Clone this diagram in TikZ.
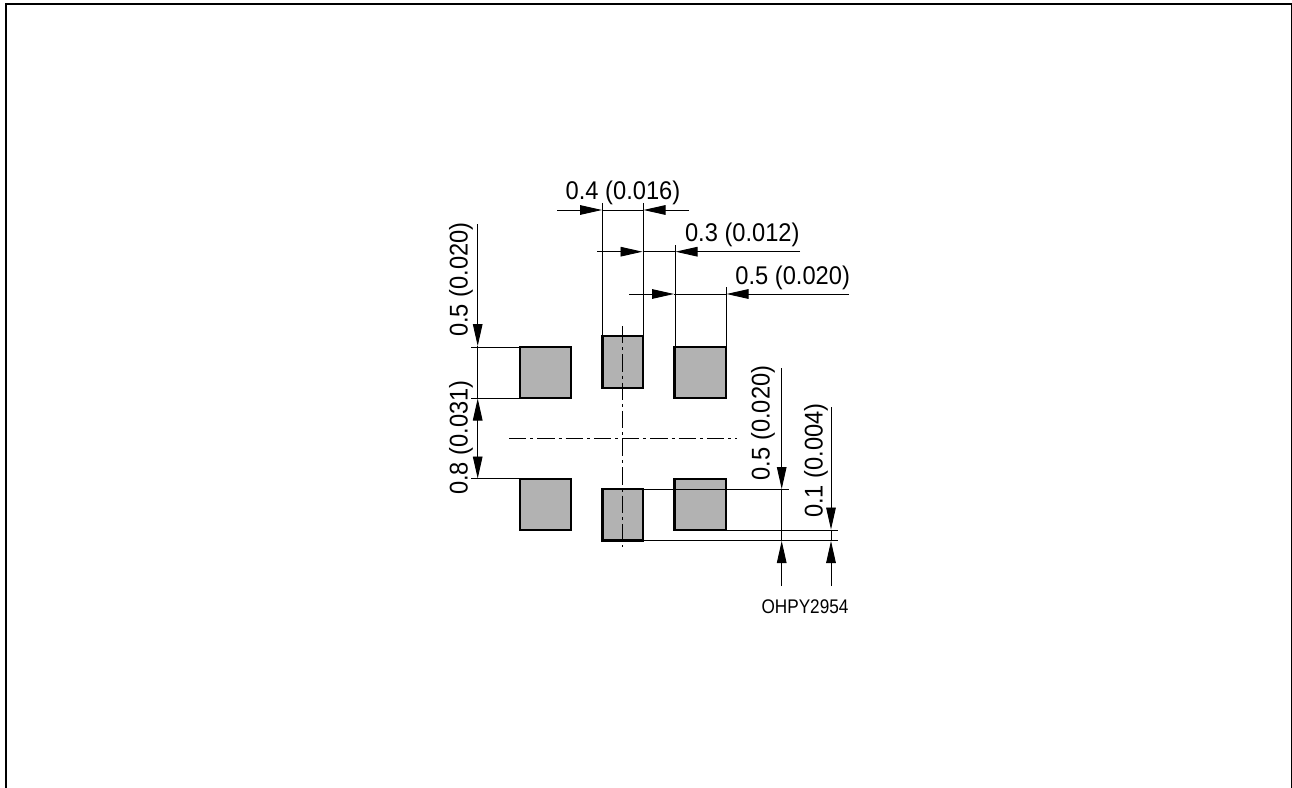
\documentclass[tikz,border=0pt]{standalone}
\usepackage{fontspec}
\usepackage{graphicx}
\setmainfont{Liberation Sans}
\usetikzlibrary{arrows.meta}
\newcommand{\dimlabel}[1]{\scalebox{0.925}[1]{\fontsize{19.2pt}{22pt}\selectfont #1}}
\newcommand{\codelabel}[1]{\scalebox{0.87}[1]{\fontsize{14.8pt}{17pt}\selectfont #1}}
\tikzset{
  px/.style={x=0.75pt,y=-0.75pt},
  frameline/.style={line width=1.5pt,black},
  pad/.style={draw=black,fill=padgray,line width=1.6pt,line join=miter},
  thin line/.style={line width=0.7pt,black},
  dim/.style={thin line,-{Triangle[length=16.5pt,width=7.2pt]},shorten >=0pt},
  center line/.style={line width=0.7pt,black,dash pattern=on 13pt off 3pt on 2.2pt off 3pt},
  dimtext/.style={anchor=base,inner sep=0pt,outer sep=0pt},
  dimrot/.style={dimtext,rotate=90},
}
\definecolor{padgray}{HTML}{B2B2B2}
\begin{document}
\begin{tikzpicture}[px]
\useasboundingbox (0,0) rectangle (1292,788);
% frame, open at the bottom
\draw[frameline] (6,788) -- (6,4) -- (1291.5,4) -- (1291.5,788);
% pads
\draw[pad] (520,347) rectangle (571,398);
\draw[pad] (602.5,336) rectangle (643,388);
\draw[pad] (674.5,347) rectangle (726,398);
\draw[pad] (520,479) rectangle (571,530);
\draw[pad] (602.5,489) rectangle (643,540.5);
\draw[pad] (674.5,479) rectangle (726,530);
% centre lines
\draw[center line] (622.7,326) -- (622.7,547);
\draw[center line] (509,438.3) -- (737,438.3);
% extension lines
\draw[thin line] (602.5,203) -- (602.5,336);
\draw[thin line] (643,203) -- (643,336);
\draw[thin line] (675,245) -- (675,347);
\draw[thin line] (726,287) -- (726,347);
\draw[thin line] (471,347) -- (520,347);
\draw[thin line] (471,398) -- (520,398);
\draw[thin line] (471,478.7) -- (520,478.7);
\draw[thin line] (643,489) -- (789,489);
\draw[thin line] (726,530) -- (838,530);
\draw[thin line] (643,540.5) -- (838,540.5);
% horizontal dimensions
\coordinate (a1) at (557,210); \coordinate (a2) at (602,210);
\coordinate (a3) at (689,210); \coordinate (a4) at (643.5,210);
\draw[dim] (a1) -- (a2);
\draw[dim] (a3) -- (a4);
\draw[thin line] (a2) -- (a4);
\coordinate (b1) at (597,251.7); \coordinate (b2) at (642.5,251.7);
\coordinate (b3) at (800,251.7); \coordinate (b4) at (675.5,251.7);
\draw[dim] (b1) -- (b2);
\draw[dim] (b3) -- (b4);
\draw[thin line] (b2) -- (b4);
\coordinate (c1) at (629,294); \coordinate (c2) at (674,294);
\coordinate (c3) at (849,294); \coordinate (c4) at (726.5,294);
\draw[dim] (c1) -- (c2);
\draw[dim] (c3) -- (c4);
\draw[thin line] (c2) -- (c4);
% left vertical dimensions
\coordinate (d1) at (477.7,224); \coordinate (d2) at (477.7,346);
\coordinate (d3) at (477.7,398.5); \coordinate (d4) at (477.7,478.5);
\coordinate (d5) at (477.7,438);
\draw[dim] (d1) -- (d2);
\draw[thin line] (d2) -- (d3);
\draw[dim] (d5) -- (d3);
\draw[dim] (d5) -- (d4);
% right vertical dimensions
\coordinate (e1) at (781.7,368); \coordinate (e2) at (781.7,489);
\coordinate (e3) at (781.7,586); \coordinate (e4) at (781.7,541);
\draw[dim] (e1) -- (e2);
\draw[dim] (e3) -- (e4);
\draw[thin line] (e2) -- (e4);
\coordinate (f1) at (831,407); \coordinate (f2) at (831,529.5);
\coordinate (f3) at (831,586); \coordinate (f4) at (831,541);
\draw[dim] (f1) -- (f2);
\draw[dim] (f3) -- (f4);
\draw[thin line] (f2) -- (f4);
% labels
\node[dimtext] (t1) at (623,199.3) {\dimlabel{0.4 (0.016)}};
\node[dimtext] (t2) at (742.3,241.7) {\dimlabel{0.3 (0.012)}};
\node[dimtext] (t3) at (792.7,284) {\dimlabel{0.5 (0.020)}};
\node[dimrot] (t4) at (467.5,279.5) {\dimlabel{0.5 (0.020)}};
\node[dimrot] (t5) at (467.5,437.5) {\dimlabel{0.8 (0.031)}};
\node[dimrot] (t6) at (769.5,423) {\dimlabel{0.5 (0.020)}};
\node[dimrot] (t7) at (822.5,460.5) {\dimlabel{0.1 (0.004)}};
\node[dimtext] (t8) at (805,613) {\codelabel{OHPY2954}};
\end{tikzpicture}
\end{document}
